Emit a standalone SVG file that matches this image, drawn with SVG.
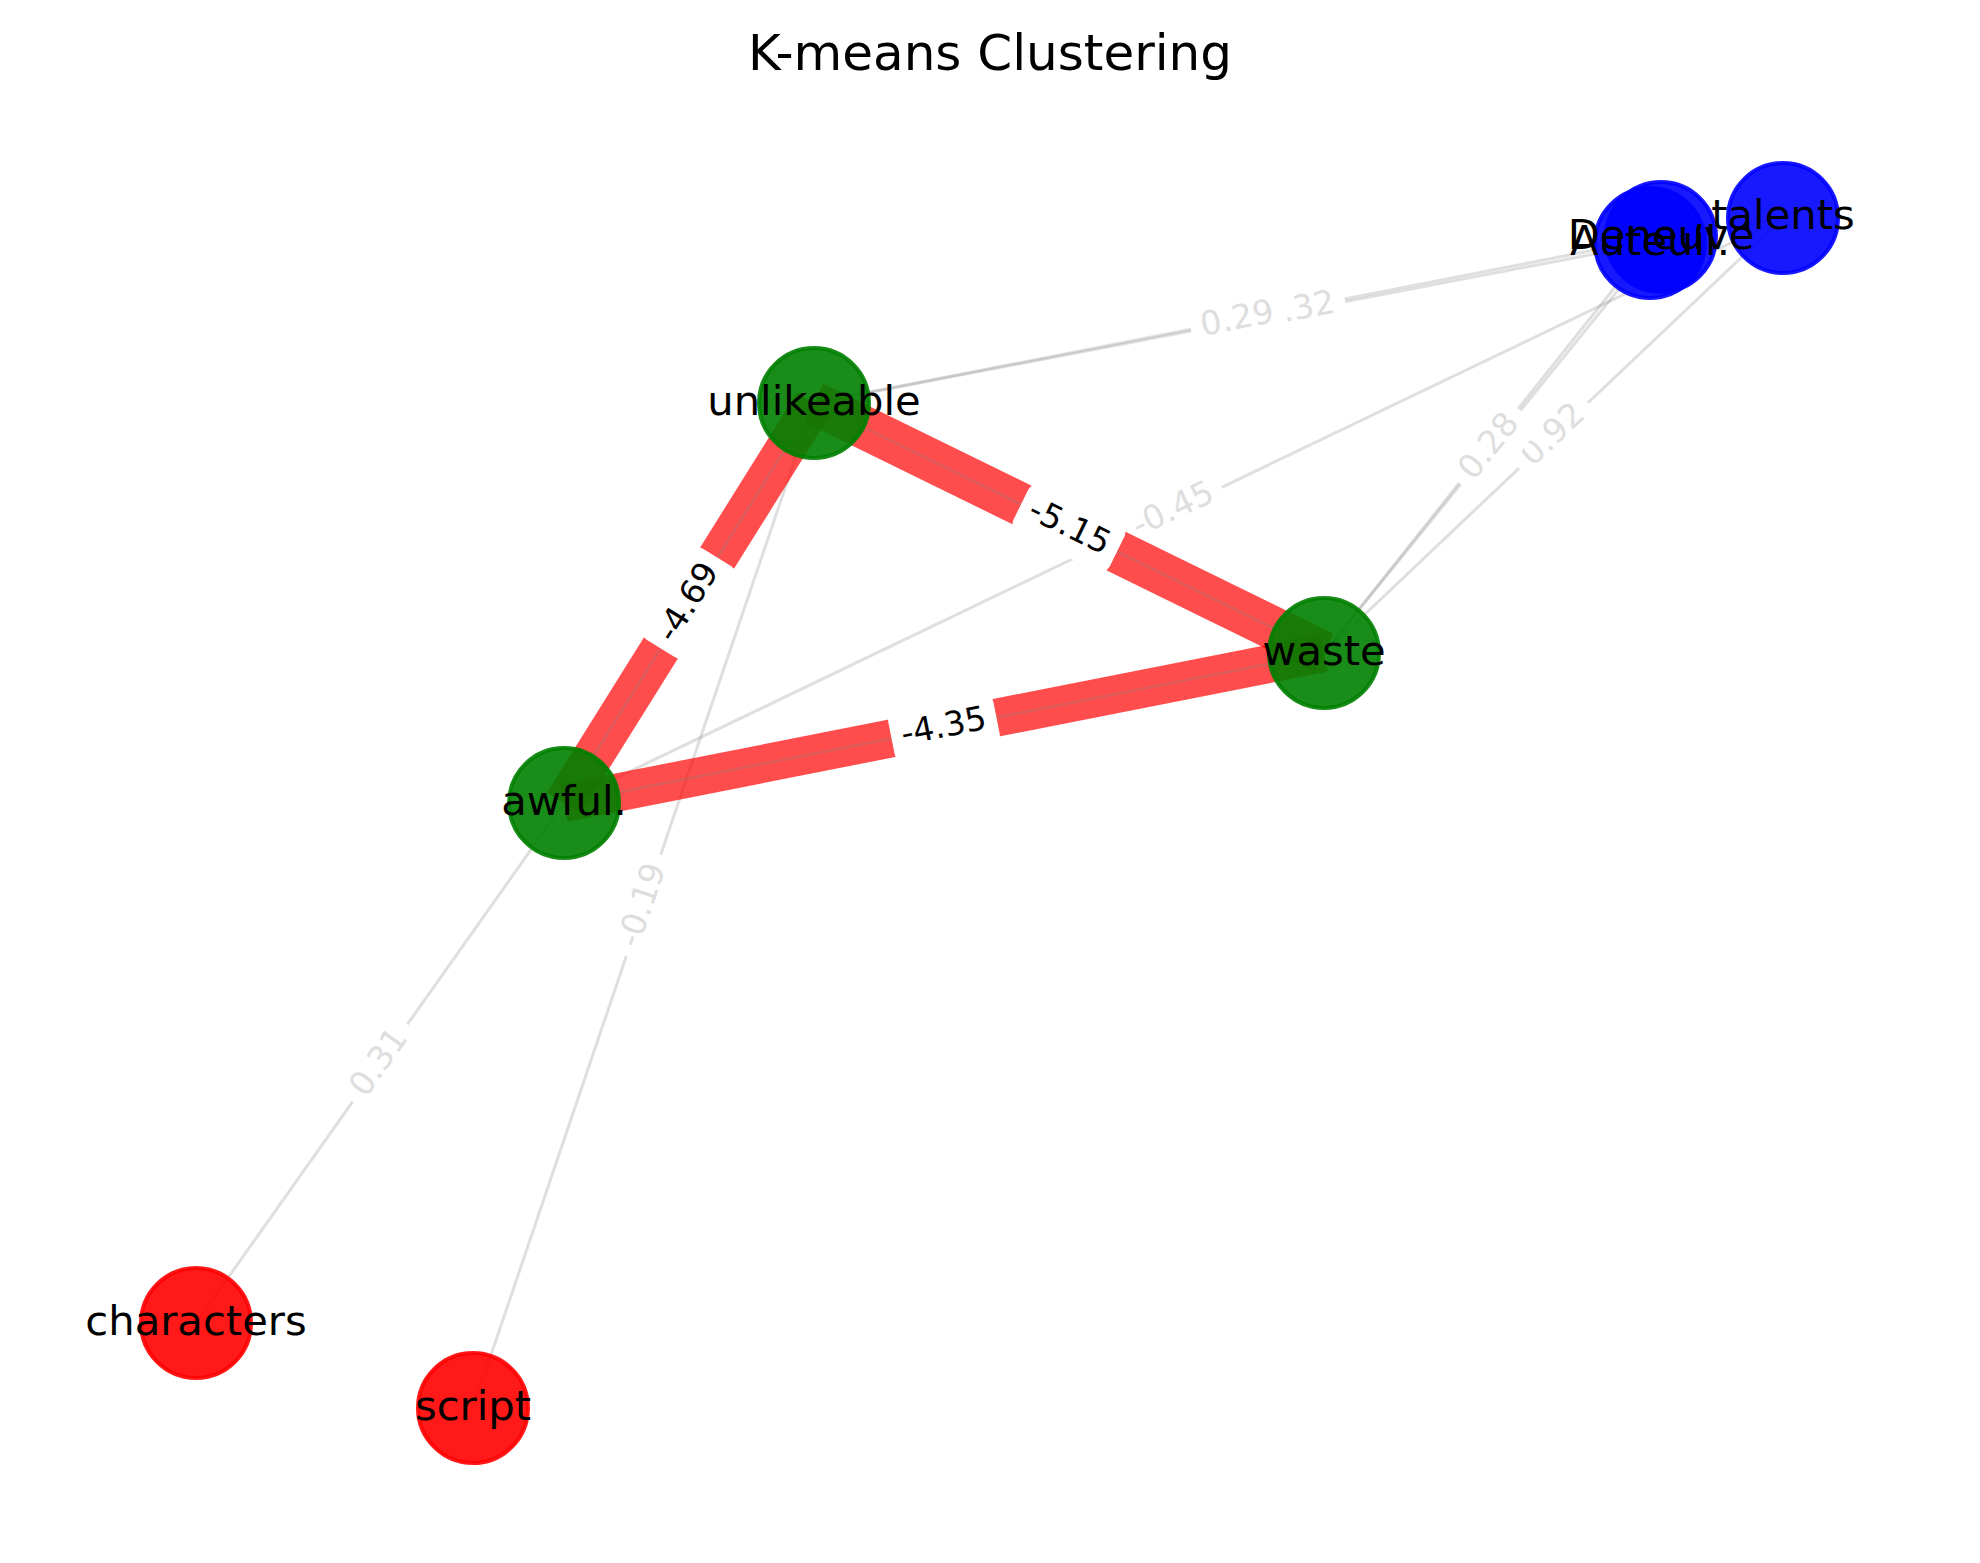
<svg xmlns="http://www.w3.org/2000/svg" width="1980" height="1563" viewBox="0 0 1980 1563">
  <style>
    text { font-family: "DejaVu Sans", "Liberation Sans", sans-serif; }
    .title { font-size: 50px; text-anchor: middle; fill: #000; }
    .band { fill: none; stroke: #ff0000; stroke-opacity: 0.7; stroke-linecap: butt; }
    .thin { fill: none; stroke: #808080; stroke-opacity: 0.25; stroke-width: 3; }
    .lbox { fill: #ffffff; stroke: #ffffff; stroke-width: 1; }
    .elab { font-size: 33.3px; text-anchor: middle; }
    .strong { fill: #000000; }
    .weak { fill: #dedede; }
    .node { stroke-width: 4; fill-opacity: 0.9; stroke-opacity: 0.9; }
    .green { fill: #008000; stroke: #008000; }
    .red { fill: #ff0000; stroke: #ff0000; }
    .blue { fill: #0000ff; stroke: #0000ff; }
    .nlab { font-size: 41.7px; text-anchor: middle; fill: #000000; }
  </style>

  <rect x="0" y="0" width="1980" height="1563" fill="#ffffff"/>

  <text class="title" x="990" y="70">K-means Clustering</text>

  <!-- connectors: thin weight lines and their labels, then heavy negative-weight bands -->
  <g id="edges">
    <line class="thin" x1="814" y1="403" x2="1783" y2="218"/>
    <line class="thin" x1="814" y1="403" x2="1661" y2="237"/>
    <line class="thin" x1="564" y1="803" x2="1783" y2="218"/>
    <line class="thin" x1="1324" y1="653" x2="1661" y2="237"/>
    <line class="thin" x1="1324" y1="653" x2="1650" y2="243"/>
    <line class="thin" x1="1324" y1="653" x2="1783" y2="218"/>
    <line class="thin" x1="564" y1="803" x2="196" y2="1323"/>
    <line class="thin" x1="814" y1="403" x2="473" y2="1408"/>

    <g transform="translate(1298.5,310.5) rotate(-10.8)">
      <rect class="lbox" x="-47" y="-26.5" width="94" height="53" rx="10"/>
      <text class="elab weak" y="9">0.32</text>
    </g>
    <g transform="translate(1237.5,320) rotate(-11.1)">
      <rect class="lbox" x="-47" y="-26.5" width="94" height="53" rx="10"/>
      <text class="elab weak" y="9">0.29</text>
    </g>
    <g transform="translate(1173.5,510.5) rotate(-25.6)">
      <rect class="lbox" x="-53" y="-26.5" width="106" height="53" rx="10"/>
      <text class="elab weak" y="9">-0.45</text>
    </g>
    <g transform="translate(1553.5,435.5) rotate(-43.5)">
      <rect class="lbox" x="-47" y="-26.5" width="94" height="53" rx="10"/>
      <text class="elab weak" y="9">0.92</text>
    </g>
    <g transform="translate(1490,447) rotate(-51.2)">
      <rect class="lbox" x="-47" y="-26.5" width="94" height="53" rx="10"/>
      <text class="elab weak" y="9">0.28</text>
    </g>
    <g transform="translate(380,1063) rotate(-54.7)">
      <rect class="lbox" x="-47" y="-26.5" width="94" height="53" rx="10"/>
      <text class="elab weak" y="9">0.31</text>
    </g>
    <g transform="translate(643.5,905.5) rotate(-71.3)">
      <rect class="lbox" x="-53" y="-26.5" width="106" height="53" rx="10"/>
      <text class="elab weak" y="9">-0.19</text>
    </g>

    <line class="band" x1="814" y1="403" x2="1324" y2="653" stroke-width="43"/>
    <line class="band" x1="564" y1="803" x2="814" y2="403" stroke-width="40"/>
    <line class="band" x1="564" y1="803" x2="1324" y2="653" stroke-width="38"/>

    <line class="thin" x1="814" y1="403" x2="1324" y2="653"/>
    <line class="thin" x1="564" y1="803" x2="814" y2="403"/>
    <line class="thin" x1="564" y1="803" x2="1324" y2="653"/>

    <g transform="translate(1069,528) rotate(26.1)">
      <rect class="lbox" x="-53" y="-26.5" width="106" height="53" rx="10"/>
      <text class="elab strong" y="9">-5.15</text>
    </g>
    <g transform="translate(689,603) rotate(-58)">
      <rect class="lbox" x="-53" y="-26.5" width="106" height="53" rx="10"/>
      <text class="elab strong" y="9">-4.69</text>
    </g>
    <g transform="translate(944,728) rotate(-11.2)">
      <rect class="lbox" x="-53" y="-26.5" width="106" height="53" rx="10"/>
      <text class="elab strong" y="9">-4.35</text>
    </g>
  </g>

  <!-- nodes -->
  <g id="node-unlikeable"><circle class="node green" cx="814" cy="403" r="55"/></g>
  <g id="node-waste"><circle class="node green" cx="1324" cy="653" r="55"/></g>
  <g id="node-awful"><circle class="node green" cx="564" cy="803" r="55"/></g>
  <g id="node-characters"><circle class="node red" cx="196" cy="1323" r="55"/></g>
  <g id="node-script"><circle class="node red" cx="473" cy="1408" r="55"/></g>
  <g id="node-talents"><circle class="node blue" cx="1783" cy="218" r="55"/></g>
  <g id="node-auteuil"><circle class="node blue" cx="1650" cy="243" r="55"/></g>
  <g id="node-deneuve"><circle class="node blue" cx="1661" cy="237" r="55"/></g>

  <!-- node names, drawn above every circle -->
  <g id="node-labels">
    <text class="nlab" x="814" y="415">unlikeable</text>
    <text class="nlab" x="1324" y="665">waste</text>
    <text class="nlab" x="564" y="815">awful.</text>
    <text class="nlab" x="196" y="1335">characters</text>
    <text class="nlab" x="473" y="1420">script</text>
    <text class="nlab" x="1783" y="229">talents</text>
    <text class="nlab" x="1650" y="255">Auteuil.</text>
    <text class="nlab" x="1661" y="249">Deneuve</text>
  </g>
</svg>
